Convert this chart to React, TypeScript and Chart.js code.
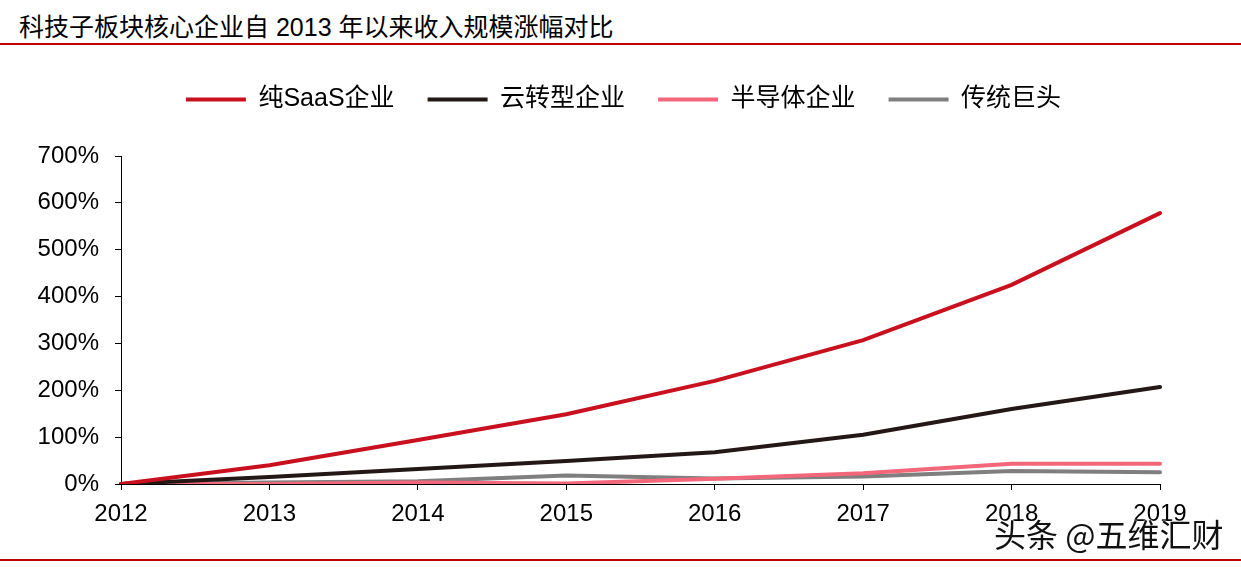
import { useEffect, useRef } from 'react';
import Chart from 'chart.js/auto';

const years = ['2012', '2013', '2014', '2015', '2016', '2017', '2018', '2019'];
const pureSaas = [0, 40, 94, 149, 220, 307, 425, 578];
const cloudShift = [0, 15, 32, 49, 68, 105, 160, 207];
const semiconductor = [0, 0, 3, 1, 11, 23, 43, 43];
const legacyGiants = [0, 3, 6, 18, 12, 16, 28, 25];
const yTicks = [0, 100, 200, 300, 400, 500, 600, 700];

const FONT = "'Liberation Sans', Arial, 'Noto Sans CJK SC', sans-serif";
const CJK = "'Noto Sans CJK SC', 'Liberation Sans', sans-serif";

export default function App() {
  const chartRef = useRef<HTMLCanvasElement>(null);
  const chartInstance = useRef<Chart | null>(null);

  useEffect(() => {
    document.body.style.margin = '0';
    if (!chartRef.current) return;
    const ctx = chartRef.current.getContext('2d');
    if (!ctx) return;

    if (chartInstance.current) {
      chartInstance.current.destroy();
    }

    const line = (label: string, data: number[], color: string) => ({
      label,
      data,
      borderColor: color,
      backgroundColor: color,
      borderWidth: 4,
      borderCapStyle: 'round' as const,
      pointRadius: 0,
      tension: 0,
      fill: false,
    });

    chartInstance.current = new Chart(ctx, {
      type: 'line',
      data: {
        labels: years,
        datasets: [
          line('纯SaaS企业', pureSaas, '#C8101E'),
          line('云转型企业', cloudShift, '#231815'),
          line('半导体企业', semiconductor, '#F2677A'),
          line('传统巨头', legacyGiants, '#7F7F7F'),
        ],
      },
      options: {
        responsive: false,
        animation: false,
        layout: { padding: { top: 54, left: 0, right: 81, bottom: 0 } },
        plugins: {
          title: { display: false },
          tooltip: { enabled: false },
          legend: {
            position: 'top',
            labels: {
              usePointStyle: true,
              pointStyle: 'line',
              pointStyleWidth: 60,
              padding: 33,
              color: '#000',
              font: { family: FONT, size: 25 },
            },
          },
        },
        scales: {
          x: {
            offset: false,
            afterFit: (s: any) => { s.height = 83; },
            grid: { display: true, drawOnChartArea: false, drawTicks: true, tickLength: 6, color: '#000' },
            border: { display: true, color: '#000', width: 1 },
            ticks: { color: '#000', padding: 10, maxRotation: 0, font: { family: FONT, size: 24 } },
          },
          y: {
            min: 0,
            max: 700,
            afterFit: (s: any) => { s.width = 121; },
            afterBuildTicks: (s: any) => { s.ticks = yTicks.map((v) => ({ value: v })); },
            grid: { display: true, drawOnChartArea: false, drawTicks: true, tickLength: 6, color: '#000' },
            border: { display: true, color: '#000', width: 1 },
            ticks: {
              color: '#000',
              padding: 16,
              font: { family: FONT, size: 24 },
              callback: (v: any) => v + '%',
            },
          },
        },
      },
      plugins: [
        {
          id: 'legendBox',
          beforeInit(chart: any) {
            const fit = chart.legend.fit;
            chart.legend.fit = function () {
              fit.bind(this)();
              this.height = 102;
            };
          },
          // centre the legend the way the original does (a bit right of the plot centre)
          afterLayout(chart: any) {
            chart.legend.left = 87;
          },
        },
      ],
    });

    return () => {
      if (chartInstance.current) {
        chartInstance.current.destroy();
        chartInstance.current = null;
      }
    };
  }, []);

  return (
    <div style={{ position: 'relative', width: 1241, height: 567, background: '#fff', overflow: 'hidden' }}>
      <div
        style={{
          position: 'absolute',
          left: 19,
          top: 11,
          fontFamily: FONT,
          fontSize: 25,
          lineHeight: '32px',
          color: '#000',
          whiteSpace: 'nowrap',
        }}
      >
        科技子板块核心企业自 2013 年以来收入规模涨幅对比
      </div>
      <div style={{ position: 'absolute', left: 0, right: 0, top: 43, height: 2, background: '#C00000' }} />
      <div style={{ position: 'absolute', left: 0, right: 0, top: 559, height: 2, background: '#C00000' }} />
      <canvas ref={chartRef} width={1241} height={567} style={{ position: 'absolute', left: 0, top: 0 }} />
      <div
        style={{
          position: 'absolute',
          left: 994,
          top: 513,
          fontFamily: CJK,
          fontSize: 32,
          lineHeight: '40px',
          color: '#111',
          whiteSpace: 'nowrap',
          textShadow: '0 0 2px #fff, 0 0 2px #fff',
        }}
      >
        头条 @五维汇财
      </div>
    </div>
  );
}
